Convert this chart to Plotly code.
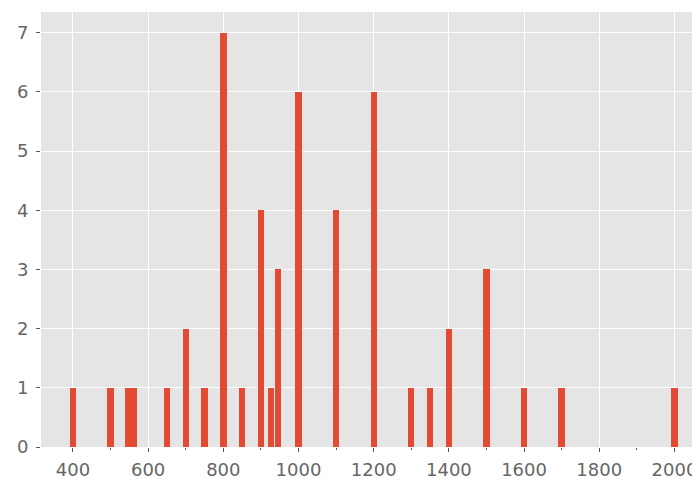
import plotly.graph_objects as go

# bin centres and counts
values = [400, 500, 547, 563, 650, 700, 750, 800, 850, 900, 927, 945,
          1000, 1100, 1200, 1300, 1350, 1400, 1500, 1600, 1700, 2000]
counts = [1, 1, 1, 1, 1, 2, 1, 7, 1, 4, 1, 3,
          6, 4, 6, 1, 1, 2, 3, 1, 1, 1]
x_ticks = [400, 600, 800, 1000, 1200, 1400, 1600, 1800, 2000]
y_ticks = [0, 1, 2, 3, 4, 5, 6, 7]

fig = go.Figure(go.Bar(x=values, y=counts, width=17,
                       marker=dict(color="#E24A33", line=dict(width=0))))

font = dict(family="DejaVu Sans", size=18, color="#666666")
fig.update_layout(
    width=692, height=473,
    margin=dict(l=33, r=0, t=4, b=34),
    paper_bgcolor="white", plot_bgcolor="#E5E5E5",
    showlegend=False, bargap=0,
    font=font,
)
fig.update_xaxes(range=[315, 2068], tickvals=x_ticks, ticktext=[str(v) for v in x_ticks],
                 showgrid=True, gridcolor="white", gridwidth=1.2, zeroline=False,
                 ticks="outside", ticklen=4, tickcolor="#555555", showline=False,
                 tickfont=font, automargin=False, ticklabelstandoff=2,
                 minor=dict(dtick=100, tick0=0, ticks="outside", ticklen=2,
                            tickcolor="#555555", showgrid=False))
fig.update_yaxes(range=[0, 7.35], tickvals=y_ticks,
                 showgrid=True, gridcolor="white", gridwidth=1.2, zeroline=False,
                 ticks="outside", ticklen=4, tickcolor="#555555", showline=False,
                 tickfont=font, automargin=False, ticklabelstandoff=4)

fig.write_html("out.html")
